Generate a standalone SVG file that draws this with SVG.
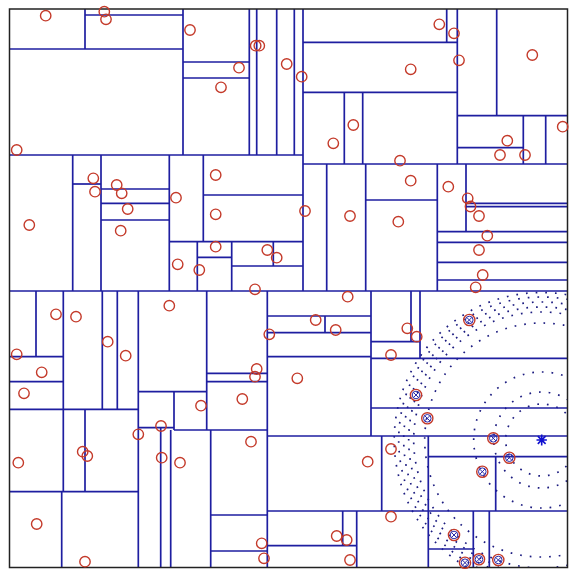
<svg xmlns="http://www.w3.org/2000/svg" xmlns:xlink="http://www.w3.org/1999/xlink" width="570" height="569" viewBox="0 0 570 569">
<style>
.g line{stroke:#1e1ea0;stroke-width:1.7}
.pt{fill:none;stroke:#c43a2a;stroke-width:1.4}
.xb{fill:none;stroke:#2a2aa8;stroke-width:1}
.ring{fill:none;stroke:#1c1c80;stroke-width:1.7;stroke-dasharray:1.7 8}
</style>
<defs>
<circle id="p" class="pt" cx="0" cy="0" r="5.2"/>
<g id="q"><circle class="pt" cx="0" cy="0" r="5.6"/><circle class="xb" cx="0" cy="0" r="3.8"/><path class="xb" d="M-2.7,-2.7L2.7,2.7M-2.7,2.7L2.7,-2.7"/></g>
<clipPath id="box"><rect x="10" y="9.5" width="557" height="557.5"/></clipPath>
</defs>
<rect x="0" y="0" width="570" height="569" fill="#ffffff"/>
<g id="field" clip-path="url(#box)">
<circle class="ring" cx="541.7" cy="440" r="36"/>
<circle class="ring" cx="541.7" cy="440" r="48"/>
<circle class="ring" cx="541.7" cy="440" r="68"/>
<circle class="ring" cx="541.7" cy="440" r="117"/>
<circle class="ring" cx="541.7" cy="440" r="128"/>
<circle class="ring" cx="541.7" cy="440" r="133"/>
<circle class="ring" cx="541.7" cy="440" r="138"/>
<circle class="ring" cx="541.7" cy="440" r="143"/>
<circle class="ring" cx="541.7" cy="440" r="147.5"/>
</g>
<g id="grid" class="g">
<line x1="9.5" y1="291" x2="567.5" y2="291"/>
<line x1="9.5" y1="155" x2="303" y2="155"/>
<line x1="9.5" y1="49" x2="183" y2="49"/>
<line x1="85" y1="15" x2="183" y2="15"/>
<line x1="183" y1="62" x2="249.3" y2="62"/>
<line x1="183" y1="78" x2="249.3" y2="78"/>
<line x1="303" y1="42.3" x2="457.3" y2="42.3"/>
<line x1="303" y1="92.3" x2="457.3" y2="92.3"/>
<line x1="303" y1="164" x2="567.5" y2="164"/>
<line x1="457.3" y1="115.7" x2="567.5" y2="115.7"/>
<line x1="457.3" y1="147.7" x2="523.3" y2="147.7"/>
<line x1="72.7" y1="184" x2="101" y2="184"/>
<line x1="101" y1="189" x2="169.3" y2="189"/>
<line x1="101" y1="203.3" x2="169.3" y2="203.3"/>
<line x1="101" y1="220" x2="169.3" y2="220"/>
<line x1="169.3" y1="241.7" x2="303" y2="241.7"/>
<line x1="203.3" y1="195" x2="303" y2="195"/>
<line x1="197.3" y1="257.3" x2="231.7" y2="257.3"/>
<line x1="231.7" y1="266" x2="303" y2="266"/>
<line x1="365.7" y1="200" x2="437.3" y2="200"/>
<line x1="466" y1="203.3" x2="567.5" y2="203.3"/>
<line x1="466" y1="206.7" x2="567.5" y2="206.7"/>
<line x1="437.3" y1="231.7" x2="567.5" y2="231.7"/>
<line x1="437.3" y1="242.3" x2="567.5" y2="242.3"/>
<line x1="437.3" y1="262.3" x2="567.5" y2="262.3"/>
<line x1="437.3" y1="280" x2="567.5" y2="280"/>
<line x1="9.5" y1="356.7" x2="63.3" y2="356.7"/>
<line x1="9.5" y1="381.7" x2="63.3" y2="381.7"/>
<line x1="9.5" y1="409.3" x2="138.3" y2="409.3"/>
<line x1="9.5" y1="491.7" x2="138.3" y2="491.7"/>
<line x1="138.3" y1="391.7" x2="206.7" y2="391.7"/>
<line x1="138.3" y1="427.7" x2="174" y2="427.7"/>
<line x1="174" y1="430" x2="267.3" y2="430"/>
<line x1="206.7" y1="373.3" x2="267.3" y2="373.3"/>
<line x1="206.7" y1="381.7" x2="267.3" y2="381.7"/>
<line x1="210.7" y1="515" x2="267.3" y2="515"/>
<line x1="210.7" y1="551" x2="267.3" y2="551"/>
<line x1="267.3" y1="316" x2="371" y2="316"/>
<line x1="267.3" y1="332.7" x2="371" y2="332.7"/>
<line x1="267.3" y1="356.7" x2="371" y2="356.7"/>
<line x1="371" y1="341.7" x2="420" y2="341.7"/>
<line x1="371" y1="358.3" x2="567.5" y2="358.3"/>
<line x1="371" y1="408" x2="567.5" y2="408"/>
<line x1="267.3" y1="436" x2="567.5" y2="436"/>
<line x1="267.3" y1="511" x2="567.5" y2="511"/>
<line x1="267.3" y1="545.7" x2="356.7" y2="545.7"/>
<line x1="428.3" y1="456.7" x2="567.5" y2="456.7"/>
<line x1="428.3" y1="549" x2="473.3" y2="549"/>
<line x1="303" y1="9" x2="303" y2="291"/>
<line x1="183" y1="9" x2="183" y2="155"/>
<line x1="85" y1="9" x2="85" y2="49"/>
<line x1="249.3" y1="9" x2="249.3" y2="155"/>
<line x1="256.7" y1="9" x2="256.7" y2="155"/>
<line x1="276.7" y1="9" x2="276.7" y2="155"/>
<line x1="294.3" y1="9" x2="294.3" y2="155"/>
<line x1="446.7" y1="9" x2="446.7" y2="42.3"/>
<line x1="457.3" y1="9" x2="457.3" y2="164"/>
<line x1="496.7" y1="9" x2="496.7" y2="115.7"/>
<line x1="523.3" y1="115.7" x2="523.3" y2="164"/>
<line x1="545.7" y1="115.7" x2="545.7" y2="164"/>
<line x1="344.3" y1="92.3" x2="344.3" y2="164"/>
<line x1="362.7" y1="92.3" x2="362.7" y2="164"/>
<line x1="72.7" y1="155" x2="72.7" y2="291"/>
<line x1="101" y1="155" x2="101" y2="291"/>
<line x1="169.3" y1="155" x2="169.3" y2="291"/>
<line x1="203.3" y1="155" x2="203.3" y2="241.7"/>
<line x1="197.3" y1="241.7" x2="197.3" y2="291"/>
<line x1="231.7" y1="241.7" x2="231.7" y2="291"/>
<line x1="273.3" y1="241.7" x2="273.3" y2="266"/>
<line x1="326.7" y1="164" x2="326.7" y2="291"/>
<line x1="365.7" y1="164" x2="365.7" y2="291"/>
<line x1="437.3" y1="164" x2="437.3" y2="291"/>
<line x1="466" y1="164" x2="466" y2="231.7"/>
<line x1="36" y1="291" x2="36" y2="356.7"/>
<line x1="63.3" y1="291" x2="63.3" y2="491.7"/>
<line x1="102.3" y1="291" x2="102.3" y2="409.3"/>
<line x1="117.3" y1="291" x2="117.3" y2="409.3"/>
<line x1="85" y1="409.3" x2="85" y2="491.7"/>
<line x1="61.7" y1="491.7" x2="61.7" y2="567.5"/>
<line x1="138.3" y1="291" x2="138.3" y2="567.5"/>
<line x1="174" y1="391.7" x2="174" y2="430"/>
<line x1="160.7" y1="427.7" x2="160.7" y2="567.5"/>
<line x1="170.7" y1="430" x2="170.7" y2="567.5"/>
<line x1="206.7" y1="291" x2="206.7" y2="430"/>
<line x1="210.7" y1="430" x2="210.7" y2="567.5"/>
<line x1="267.3" y1="291" x2="267.3" y2="567.5"/>
<line x1="325" y1="316" x2="325" y2="332.7"/>
<line x1="371" y1="291" x2="371" y2="436"/>
<line x1="411" y1="291" x2="411" y2="341.7"/>
<line x1="420" y1="291" x2="420" y2="358.3"/>
<line x1="381.7" y1="436" x2="381.7" y2="511"/>
<line x1="428.3" y1="436" x2="428.3" y2="567.5"/>
<line x1="495.7" y1="456.7" x2="495.7" y2="511"/>
<line x1="342.7" y1="511" x2="342.7" y2="545.7"/>
<line x1="356.7" y1="511" x2="356.7" y2="567.5"/>
<line x1="473.3" y1="511" x2="473.3" y2="567.5"/>
<line x1="489.3" y1="511" x2="489.3" y2="567.5"/>
</g>
<rect id="border" x="9.5" y="9" width="558" height="558.5" fill="none" stroke="#222" stroke-width="1.5"/>
<g id="points">
<use xlink:href="#p" x="45.7" y="15.7"/><use xlink:href="#p" x="104.3" y="11.7"/><use xlink:href="#p" x="106" y="19.3"/>
<use xlink:href="#p" x="190" y="30"/><use xlink:href="#p" x="16.7" y="150"/><use xlink:href="#p" x="93.3" y="178.3"/>
<use xlink:href="#p" x="116.7" y="185"/><use xlink:href="#p" x="255.7" y="45.7"/><use xlink:href="#p" x="259.3" y="45.7"/>
<use xlink:href="#p" x="239" y="67.7"/><use xlink:href="#p" x="221" y="87.3"/><use xlink:href="#p" x="286.7" y="64"/>
<use xlink:href="#p" x="301.7" y="76.7"/><use xlink:href="#p" x="353.3" y="125"/><use xlink:href="#p" x="333.3" y="143.3"/>
<use xlink:href="#p" x="215.7" y="175"/><use xlink:href="#p" x="439.3" y="24.3"/><use xlink:href="#p" x="454" y="33.3"/>
<use xlink:href="#p" x="459" y="60.3"/><use xlink:href="#p" x="410.7" y="69.3"/><use xlink:href="#p" x="532.3" y="55"/>
<use xlink:href="#p" x="562.7" y="126.7"/><use xlink:href="#p" x="507.3" y="140.7"/><use xlink:href="#p" x="500" y="155"/>
<use xlink:href="#p" x="525" y="155"/><use xlink:href="#p" x="400" y="160.7"/><use xlink:href="#p" x="410.7" y="180.7"/>
<use xlink:href="#p" x="448.3" y="186.7"/><use xlink:href="#p" x="29.3" y="225"/><use xlink:href="#p" x="95" y="191.7"/>
<use xlink:href="#p" x="121.7" y="193.3"/><use xlink:href="#p" x="127.7" y="209"/><use xlink:href="#p" x="120.7" y="230.7"/>
<use xlink:href="#p" x="176" y="197.7"/><use xlink:href="#p" x="177.7" y="264.3"/><use xlink:href="#p" x="169.3" y="305.7"/>
<use xlink:href="#p" x="56" y="314.3"/><use xlink:href="#p" x="76" y="316.7"/><use xlink:href="#p" x="107.7" y="341.7"/>
<use xlink:href="#p" x="125.7" y="355.7"/><use xlink:href="#p" x="16.7" y="354.3"/><use xlink:href="#p" x="41.7" y="372.3"/>
<use xlink:href="#p" x="215.7" y="214.3"/><use xlink:href="#p" x="305" y="211"/><use xlink:href="#p" x="350" y="216"/>
<use xlink:href="#p" x="215.7" y="246.7"/><use xlink:href="#p" x="267.3" y="250"/><use xlink:href="#p" x="276.7" y="257.7"/>
<use xlink:href="#p" x="199.3" y="270"/><use xlink:href="#p" x="255" y="289.3"/><use xlink:href="#p" x="347.7" y="296.7"/>
<use xlink:href="#p" x="315.7" y="320"/><use xlink:href="#p" x="335.7" y="330"/><use xlink:href="#p" x="269.3" y="334.3"/>
<use xlink:href="#p" x="256.7" y="369"/><use xlink:href="#p" x="255" y="376.7"/><use xlink:href="#p" x="297.3" y="378.3"/>
<use xlink:href="#p" x="467.7" y="198.3"/><use xlink:href="#p" x="470.5" y="206.5"/><use xlink:href="#p" x="479" y="216"/>
<use xlink:href="#p" x="398.3" y="221.7"/><use xlink:href="#p" x="487.3" y="235.7"/><use xlink:href="#p" x="479" y="250"/>
<use xlink:href="#p" x="482.7" y="275"/><use xlink:href="#p" x="475.7" y="287.3"/><use xlink:href="#p" x="407.3" y="328.3"/>
<use xlink:href="#p" x="416.7" y="336.7"/><use xlink:href="#p" x="391" y="355"/><use xlink:href="#p" x="24" y="393.3"/>
<use xlink:href="#p" x="18.3" y="462.7"/><use xlink:href="#p" x="82.7" y="451.7"/><use xlink:href="#p" x="87.3" y="456"/>
<use xlink:href="#p" x="138.3" y="434.3"/><use xlink:href="#p" x="161" y="426"/><use xlink:href="#p" x="161.7" y="457.7"/>
<use xlink:href="#p" x="180" y="462.7"/><use xlink:href="#p" x="36.7" y="524"/><use xlink:href="#p" x="85" y="561.7"/>
<use xlink:href="#p" x="242.3" y="399"/><use xlink:href="#p" x="201" y="405.7"/><use xlink:href="#p" x="251" y="441.7"/>
<use xlink:href="#p" x="367.7" y="461.7"/><use xlink:href="#p" x="261.7" y="543.3"/><use xlink:href="#p" x="264" y="558.3"/>
<use xlink:href="#p" x="336.7" y="536"/><use xlink:href="#p" x="346.7" y="540"/><use xlink:href="#p" x="350" y="560"/>
<use xlink:href="#p" x="391" y="449"/><use xlink:href="#p" x="391" y="516.7"/>
</g>
<g id="neighbours">
<use xlink:href="#q" x="469.3" y="320"/><use xlink:href="#q" x="416" y="395"/><use xlink:href="#q" x="427.3" y="418.3"/>
<use xlink:href="#q" x="493.3" y="438.3"/><use xlink:href="#q" x="509.3" y="457.7"/><use xlink:href="#q" x="482.3" y="471.7"/>
<use xlink:href="#q" x="454" y="535"/><use xlink:href="#q" x="465" y="562.7"/><use xlink:href="#q" x="479" y="559.3"/>
<use xlink:href="#q" x="498.3" y="560"/>
</g>
<g id="query" stroke="#1010d0" stroke-width="1.6">
<path d="M541.7,434.5V445.5M536.5,440H546.9M537.8,436.1L545.6,443.9M537.8,443.9L545.6,436.1"/>
</g>
</svg>
